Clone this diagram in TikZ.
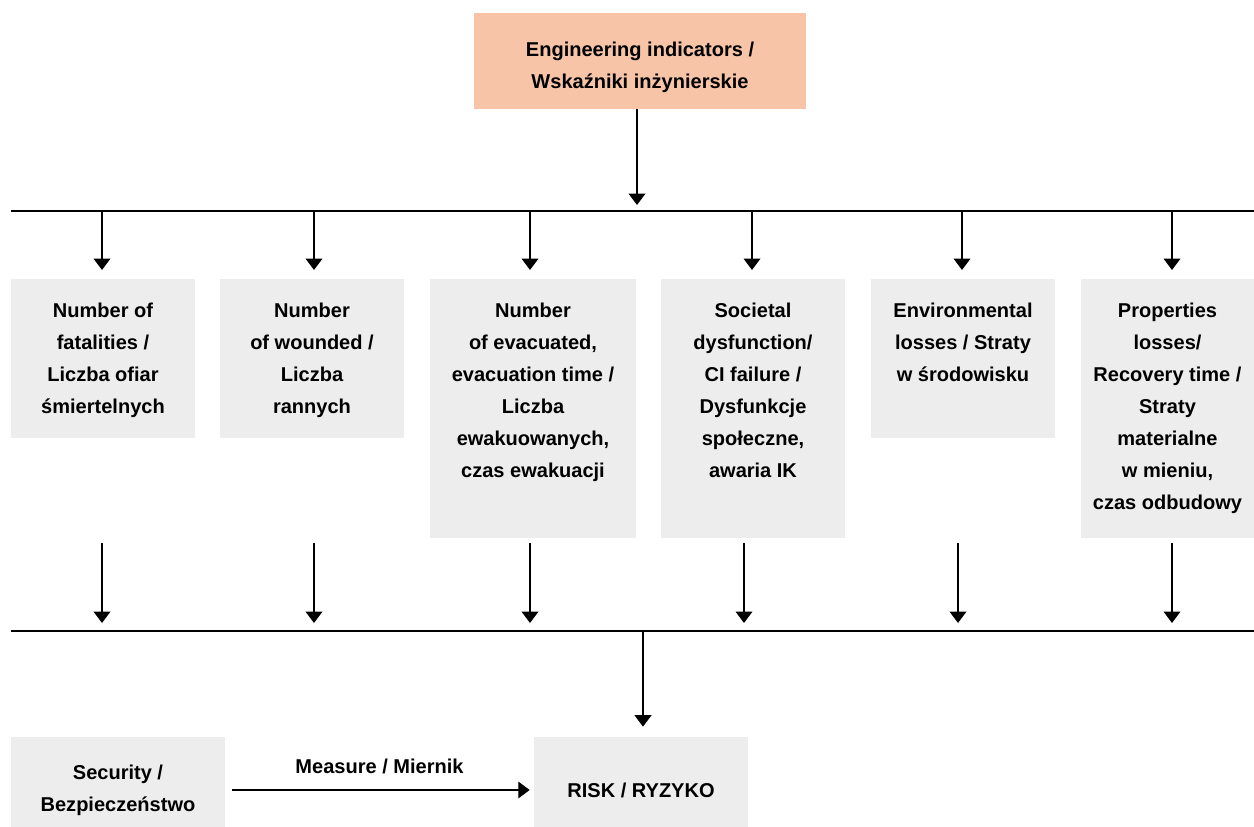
\documentclass[tikz,border=0pt]{standalone}
\usepackage{fontspec}
\setmainfont{Liberation Sans}
\usetikzlibrary{arrows.meta,calc}
\definecolor{peach}{RGB}{248,196,168}
\definecolor{panel}{RGB}{237,237,237}
\begin{document}
\begin{tikzpicture}[x=0.02cm,y=-0.02cm,
  panelbox/.style={fill=panel, draw=none, inner sep=0pt, anchor=north},
  caption/.style={font=\fontsize{11.4}{18.2}\selectfont\bfseries, align=center, inner sep=0pt, text=black},
  arr/.style={line width=0.75pt, -{Triangle[width=9.5pt,length=6.5pt]}},
  bus/.style={line width=0.75pt}]
\useasboundingbox (0,0) rectangle (1254,827);

% source box
\node[fill=peach, inner sep=0pt, minimum width=6.64cm, minimum height=1.92cm] (top) at (640,61) {};
\node[caption] (topt) at ([yshift=-0.12cm]top.center) {Engineering indicators /\\Wskaźniki inżynierskie};

% upper distribution line
\coordinate (busL) at (11,211);
\coordinate (busR) at (1254,211);
\coordinate (hub) at (637,211);
\draw[bus] (busL) -- (busR);
\draw[arr, shorten >=0.12cm] (top.south -| hub) -- (hub);

% indicator panels
\node[panelbox, minimum width=3.68cm, minimum height=3.18cm] (b1) at (103,279) {};
\node[panelbox, minimum width=3.68cm, minimum height=3.18cm] (b2) at (312,279) {};
\node[panelbox, minimum width=4.12cm, minimum height=5.18cm] (b3) at (533,279) {};
\node[panelbox, minimum width=3.68cm, minimum height=5.18cm] (b4) at (753,279) {};
\node[panelbox, minimum width=3.68cm, minimum height=3.18cm] (b5) at (963,279) {};
\node[panelbox, minimum width=3.46cm, minimum height=5.18cm] (b6) at (1167.5,279) {};

\node[caption, anchor=north] (t1) at ([yshift=-0.47cm]b1.north) {Number of\\fatalities /\\Liczba ofiar\\śmiertelnych};
\node[caption, anchor=north] (t2) at ([yshift=-0.47cm]b2.north) {Number\\of wounded /\\Liczba\\rannych};
\node[caption, anchor=north] (t3) at ([yshift=-0.47cm]b3.north) {Number\\of evacuated,\\evacuation time /\\Liczba\\ewakuowanych,\\czas ewakuacji};
\node[caption, anchor=north] (t4) at ([yshift=-0.47cm]b4.north) {Societal\\dysfunction/\\CI failure /\\Dysfunkcje\\społeczne,\\awaria IK};
\node[caption, anchor=north] (t5) at ([yshift=-0.47cm]b5.north) {Environmental\\losses / Straty\\w środowisku};
\node[caption, anchor=north] (t6) at ([yshift=-0.47cm]b6.north) {Properties\\losses/\\Recovery time /\\Straty\\materialne\\w mieniu,\\czas odbudowy};

% arrows from the upper line into the panels
\foreach \i/\x in {1/102,2/314,3/530,4/752,5/962,6/1172} {
  \coordinate (d\i) at (\x,211);
  \draw[arr, shorten >=0.18cm] (d\i) -- (d\i |- b\i.north);
}

% lower collecting line
\coordinate (lowL) at (11,631);
\coordinate (lowR) at (1254,631);
\coordinate (hub2) at (643,631);
\draw[bus] (lowL) -- (lowR);
\foreach \i/\x in {1/102,2/314,3/530,4/744,5/958,6/1172} {
  \coordinate (s\i) at (\x,543);
  \coordinate (u\i) at (\x,631);
  \draw[arr, shorten >=0.16cm] (s\i) -- (u\i);
}

% result boxes
\node[fill=panel, inner sep=0pt, minimum width=4.28cm, minimum height=2.12cm, caption]
  (sec) at (118,790) {Security /\\Bezpieczeństwo};
\node[fill=panel, inner sep=0pt, minimum width=4.28cm, minimum height=2.12cm, caption]
  (risk) at (641,790) {RISK / RYZYKO};

\draw[arr, shorten >=0.2cm] (hub2) -- (hub2 |- risk.north);
\draw[arr, shorten <=0.14cm, shorten >=0.08cm] (sec.east) -- node[caption, above=0.3cm] (meas) {Measure / Miernik} (risk.west);
\end{tikzpicture}
\end{document}
